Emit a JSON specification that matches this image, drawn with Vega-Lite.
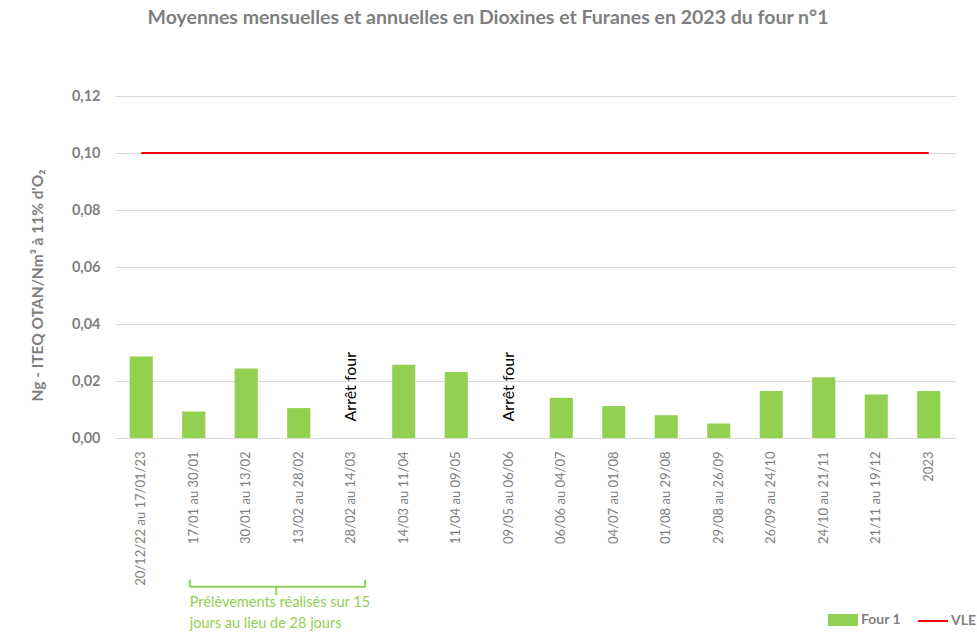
{
  "$schema": "https://vega.github.io/schema/vega-lite/v6.json",
  "width": 840,
  "height": 342,
  "autosize": {"type": "none"},
  "padding": {"left": 115, "top": 96, "right": 22, "bottom": 196},
  "background": "white",
  "title": {
    "text": "Moyennes mensuelles et annuelles en Dioxines et Furanes en 2023 du four n°1",
    "font": "Lato",
    "fontSize": 19.5,
    "fontWeight": "bold",
    "color": "#7f7f7f",
    "offset": 60,
    "dx": -47
  },
  "datasets": {
    "mesures": [
      {"periode": "20/12/22 au 17/01/23", "valeur": 0.0286, "vle": 0.1},
      {"periode": "17/01 au 30/01", "valeur": 0.0093, "vle": 0.1},
      {"periode": "30/01 au 13/02", "valeur": 0.0244, "vle": 0.1},
      {"periode": "13/02 au 28/02", "valeur": 0.0105, "vle": 0.1},
      {"periode": "28/02 au 14/03", "valeur": null, "vle": 0.1},
      {"periode": "14/03 au 11/04", "valeur": 0.0257, "vle": 0.1},
      {"periode": "11/04 au 09/05", "valeur": 0.0232, "vle": 0.1},
      {"periode": "09/05 au 06/06", "valeur": null, "vle": 0.1},
      {"periode": "06/06 au 04/07", "valeur": 0.0141, "vle": 0.1},
      {"periode": "04/07 au 01/08", "valeur": 0.0112, "vle": 0.1},
      {"periode": "01/08 au 29/08", "valeur": 0.008, "vle": 0.1},
      {"periode": "29/08 au 26/09", "valeur": 0.0051, "vle": 0.1},
      {"periode": "26/09 au 24/10", "valeur": 0.0165, "vle": 0.1},
      {"periode": "24/10 au 21/11", "valeur": 0.0213, "vle": 0.1},
      {"periode": "21/11 au 19/12", "valeur": 0.0153, "vle": 0.1},
      {"periode": "2023", "valeur": 0.0165, "vle": 0.1}
    ],
    "arrets": [
      {"periode": "28/02 au 14/03", "y": 0.018, "texte": "Arrêt four"},
      {"periode": "09/05 au 06/06", "y": 0.018, "texte": "Arrêt four"}
    ]
  },
  "config": {
    "view": {"stroke": null},
    "font": "Lato",
    "axis": {"labelFont": "Lato", "titleFont": "Lato"}
  },
  "encoding": {
    "x": {
      "field": "periode",
      "type": "nominal",
      "sort": null,
      "scale": {
        "domain": ["20/12/22 au 17/01/23", "17/01 au 30/01", "30/01 au 13/02", "13/02 au 28/02", "28/02 au 14/03", "14/03 au 11/04", "11/04 au 09/05", "09/05 au 06/06", "06/06 au 04/07", "04/07 au 01/08", "01/08 au 29/08", "29/08 au 26/09", "26/09 au 24/10", "24/10 au 21/11", "21/11 au 19/12", "2023"],
        "paddingInner": 0.56,
        "paddingOuter": 0.28
      },
      "axis": {
        "title": null,
        "labelAngle": 270,
        "labelAlign": "right",
        "labelBaseline": "middle",
        "labelFontSize": 13,
        "labelColor": "#7f7f7f",
        "labelPadding": 13,
        "ticks": false,
        "domain": false
      }
    }
  },
  "layer": [
    {
      "data": {"name": "mesures"},
      "mark": {"type": "bar"},
      "encoding": {
        "y": {
          "field": "valeur",
          "type": "quantitative",
          "scale": {"domain": [0, 0.12], "nice": false},
          "axis": {
            "values": [0, 0.02, 0.04, 0.06, 0.08, 0.1, 0.12],
            "labelExpr": "replace(format(datum.value, '.2f'), '.', ',')",
            "labelFontSize": 14.5,
            "labelFontWeight": "bold",
            "labelColor": "#7f7f7f",
            "labelPadding": 15,
            "ticks": false,
            "domain": false,
            "grid": true,
            "gridColor": "#d9d9d9",
            "gridWidth": 1,
            "title": "Ng - ITEQ OTAN/Nm³ à 11% d'O₂",
            "titleFontSize": 15.5,
            "titleFontWeight": "bold",
            "titleColor": "#7f7f7f",
            "titleX": -70,
            "titleY": 189
          }
        },
        "fill": {
          "datum": "Four 1",
          "scale": {"range": ["#92D050"]},
          "legend": {
            "title": null,
            "orient": "none",
            "legendX": 713,
            "legendY": 509,
            "symbolType": "M-1,-0.4H1V0.4H-1Z",
            "symbolSize": 900,
            "symbolStrokeWidth": 0,
            "labelFontSize": 14,
            "labelFontWeight": "bold",
            "labelColor": "#7f7f7f",
            "labelOffset": 3,
            "padding": 0
          }
        }
      }
    },
    {
      "data": {"name": "mesures"},
      "mark": {"type": "line", "strokeWidth": 2},
      "encoding": {
        "y": {"field": "vle", "type": "quantitative"},
        "stroke": {
          "datum": "VLE",
          "scale": {"range": ["#FF0000"]},
          "legend": {
            "title": null,
            "orient": "none",
            "legendX": 802,
            "legendY": 509,
            "symbolType": "stroke",
            "symbolSize": 900,
            "symbolStrokeWidth": 2,
            "labelFontSize": 14,
            "labelFontWeight": "bold",
            "labelColor": "#7f7f7f",
            "labelOffset": 2,
            "padding": 0
          }
        }
      }
    },
    {
      "data": {"name": "arrets"},
      "mark": {"type": "text", "angle": 270, "align": "center", "baseline": "middle", "fontSize": 16, "color": "#000000"},
      "encoding": {
        "y": {"field": "y", "type": "quantitative"},
        "text": {"field": "texte"}
      }
    },
    {
      "data": {"values": [{"a": 1}]},
      "mark": {"type": "rule", "color": "#92D050", "strokeWidth": 2, "xOffset": -4, "x2Offset": 14},
      "encoding": {
        "x": {"datum": "17/01 au 30/01"},
        "x2": {"datum": "28/02 au 14/03"},
        "y": {"datum": -0.0522}
      }
    },
    {
      "data": {"values": [{"a": 1}]},
      "mark": {"type": "rule", "color": "#92D050", "strokeWidth": 2, "xOffset": -4},
      "encoding": {
        "x": {"datum": "17/01 au 30/01"},
        "y": {"datum": -0.0497},
        "y2": {"datum": -0.0522}
      }
    },
    {
      "data": {"values": [{"a": 1}]},
      "mark": {"type": "rule", "color": "#92D050", "strokeWidth": 2, "xOffset": 14},
      "encoding": {
        "x": {"datum": "28/02 au 14/03"},
        "y": {"datum": -0.0497},
        "y2": {"datum": -0.0522}
      }
    },
    {
      "data": {"values": [{"a": 1}]},
      "mark": {"type": "rule", "color": "#92D050", "strokeWidth": 2, "xOffset": 30},
      "encoding": {
        "x": {"datum": "30/01 au 13/02"},
        "y": {"datum": -0.0522},
        "y2": {"datum": -0.0552}
      }
    },
    {
      "data": {"values": [{"texte": "Prélèvements réalisés sur 15|jours au lieu de 28 jours"}]},
      "mark": {"type": "text", "align": "left", "baseline": "top", "lineBreak": "|", "lineHeight": 21, "fontSize": 14.5, "color": "#92D050", "xOffset": -4},
      "encoding": {
        "x": {"datum": "17/01 au 30/01"},
        "y": {"datum": -0.0555},
        "text": {"field": "texte"}
      }
    }
  ]
}
